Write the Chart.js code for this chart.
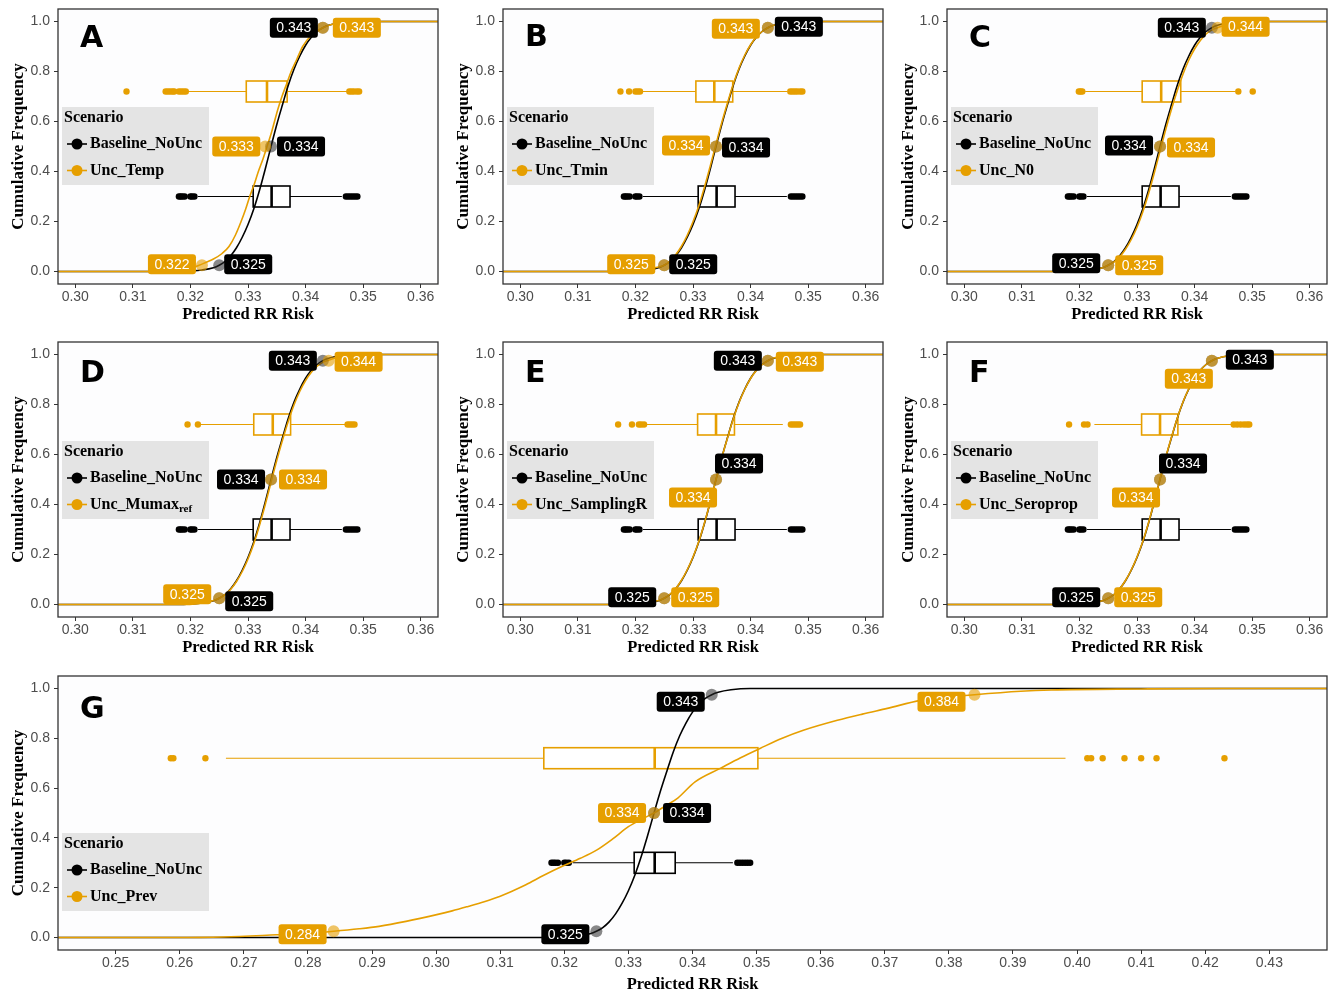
<!DOCTYPE html>
<html>
<head>
<meta charset="utf-8">
<script src="https://cdn.jsdelivr.net/npm/chart.js@4.4.1/dist/chart.umd.min.js"></script>
<style>
  html, body { margin: 0; padding: 0; background: #ffffff; }
  #wrap { position: relative; width: 1334px; height: 995px; overflow: hidden; }
  #wrap canvas { position: absolute; }
</style>
</head>
<body>
<div id="wrap"></div>
<script>
// ---------- shared settings ----------
const ORANGE = '#E69F00';
const BLACK = '#000000';
const panelLetters = ['A', 'B', 'C', 'D', 'E', 'F', 'G'];
const scenarioNames = ['Unc_Temp', 'Unc_Tmin', 'Unc_N0', 'Unc_Mumax', 'Unc_SamplingR', 'Unc_Seroprop', 'Unc_Prev'];
const scenarioSubs = ['', '', '', 'ref', '', '', ''];
const baselineName = 'Baseline_NoUnc';
const quantProbs = [0.025, 0.5, 0.975];
const boxRowY = [0.30, 0.72];           // baseline box row, scenario box row
const yTicks = [0, 0.2, 0.4, 0.6, 0.8, 1.0];
const xTicksNarrow = [0.30, 0.31, 0.32, 0.33, 0.34, 0.35, 0.36];
const xTicksWide = [0.25, 0.26, 0.27, 0.28, 0.29, 0.30, 0.31, 0.32, 0.33, 0.34, 0.35, 0.36, 0.37, 0.38, 0.39, 0.40, 0.41, 0.42, 0.43];
const xRangeNarrow = [0.297, 0.363];
const xRangeWide = [0.241, 0.439];

// ---------- baseline (no uncertainty) ----------
const baselineCdf = [[0.3180,0],[0.3200,0.002],[0.3220,0.006],[0.3240,0.015],[0.3250,0.025],[0.3260,0.040],[0.3270,0.063],[0.3280,0.095],[0.3290,0.137],[0.3300,0.188],[0.3310,0.250],[0.3320,0.325],[0.3330,0.410],[0.3340,0.500],[0.3350,0.588],[0.3360,0.668],[0.3370,0.745],[0.3380,0.810],[0.3390,0.862],[0.3400,0.905],[0.3410,0.937],[0.3420,0.960],[0.3430,0.975],[0.3440,0.985],[0.3460,0.995],[0.3490,1.0]];
const baselineQuant = [0.325, 0.334, 0.343];
const baselineBox = [0.3213, 0.3309, 0.3341, 0.3373, 0.3463];   // lower whisker, Q1, median, Q3, upper whisker
const baselineOutliers = [0.3180, 0.3183, 0.3186, 0.3190, 0.3200, 0.3203, 0.3207, 0.3470, 0.3474, 0.3478, 0.3482, 0.3486, 0.3490];

// ---------- scenarios ----------
const cdfTemp = [[0.3089,0],[0.3157,0.001],[0.3180,0.004],[0.3200,0.011],[0.3215,0.025],[0.3240,0.050],[0.3255,0.072],[0.3267,0.100],[0.3278,0.145],[0.3288,0.200],[0.3296,0.250],[0.3303,0.300],[0.3311,0.350],[0.3318,0.400],[0.3326,0.450],[0.3333,0.500],[0.3340,0.550],[0.3346,0.600],[0.3352,0.650],[0.3359,0.700],[0.3367,0.750],[0.3375,0.800],[0.3385,0.850],[0.3395,0.900],[0.3410,0.945],[0.3430,0.975],[0.3445,0.988],[0.3465,0.996],[0.3493,1.0]];
const quantTemp = [0.322, 0.333, 0.343];
const boxTemp = [0.3196, 0.3297, 0.3333, 0.3368, 0.3472];
const outTemp = [0.3089, 0.3157, 0.3161, 0.3165, 0.3169, 0.3172, 0.3180, 0.3184, 0.3188, 0.3192, 0.3476, 0.3480, 0.3484, 0.3489, 0.3493];

const cdfTmin = [[0.3174,0],[0.3200,0.003],[0.3220,0.009],[0.3240,0.018],[0.3250,0.025],[0.3260,0.042],[0.3270,0.067],[0.3280,0.101],[0.3290,0.145],[0.3300,0.199],[0.3310,0.262],[0.3320,0.338],[0.3330,0.422],[0.3340,0.510],[0.3350,0.596],[0.3360,0.675],[0.3370,0.750],[0.3380,0.814],[0.3390,0.866],[0.3400,0.907],[0.3410,0.938],[0.3420,0.960],[0.3430,0.975],[0.3440,0.985],[0.3460,0.995],[0.3490,1.0]];
const quantTmin = [0.325, 0.334, 0.343];
const boxTmin = [0.3212, 0.3305, 0.3337, 0.3369, 0.3464];
const outTmin = [0.3174, 0.3189, 0.3200, 0.3204, 0.3208, 0.3469, 0.3473, 0.3477, 0.3481, 0.3486, 0.3490];

const cdfN0 = [[0.3198,0],[0.3210,0.003],[0.3230,0.010],[0.3240,0.015],[0.3250,0.025],[0.3260,0.038],[0.3270,0.059],[0.3280,0.089],[0.3290,0.128],[0.3300,0.177],[0.3310,0.238],[0.3320,0.311],[0.3330,0.394],[0.3340,0.482],[0.3350,0.569],[0.3360,0.650],[0.3370,0.724],[0.3380,0.790],[0.3390,0.846],[0.3400,0.890],[0.3410,0.924],[0.3420,0.950],[0.3430,0.966],[0.3440,0.975],[0.3460,0.991],[0.3475,0.997],[0.3501,1.0]];
const quantN0 = [0.325, 0.334, 0.344];
const boxN0 = [0.3210, 0.3309, 0.3342, 0.3376, 0.3471];
const outN0 = [0.3199, 0.3202, 0.3205, 0.3476, 0.3501];

const cdfMumax = [[0.3195,0],[0.3215,0.004],[0.3230,0.010],[0.3240,0.016],[0.3250,0.025],[0.3260,0.039],[0.3270,0.061],[0.3280,0.092],[0.3290,0.132],[0.3300,0.182],[0.3310,0.243],[0.3320,0.317],[0.3330,0.400],[0.3340,0.489],[0.3350,0.577],[0.3360,0.658],[0.3370,0.733],[0.3380,0.799],[0.3390,0.853],[0.3400,0.896],[0.3410,0.929],[0.3420,0.953],[0.3430,0.969],[0.3440,0.977],[0.3460,0.992],[0.3485,1.0]];
const quantMumax = [0.325, 0.334, 0.344];
const boxMumax = [0.3218, 0.3310, 0.3343, 0.3374, 0.3470];
const outMumax = [0.3195, 0.3213, 0.3473, 0.3477, 0.3481, 0.3485];

const cdfSamplingR = [[0.3170,0],[0.3194,0.002],[0.3215,0.006],[0.3240,0.016],[0.3250,0.025],[0.3260,0.041],[0.3270,0.064],[0.3280,0.097],[0.3290,0.139],[0.3300,0.190],[0.3310,0.252],[0.3320,0.327],[0.3330,0.411],[0.3340,0.500],[0.3350,0.587],[0.3360,0.667],[0.3370,0.743],[0.3380,0.808],[0.3390,0.861],[0.3400,0.904],[0.3410,0.936],[0.3420,0.959],[0.3430,0.975],[0.3440,0.986],[0.3460,0.995],[0.3486,1.0]];
const quantSamplingR = [0.325, 0.334, 0.343];
const boxSamplingR = [0.3216, 0.3308, 0.3340, 0.3372, 0.3456];
const outSamplingR = [0.3170, 0.3194, 0.3206, 0.3210, 0.3215, 0.3470, 0.3474, 0.3478, 0.3482, 0.3486];

const cdfSeroprop = [[0.3182,0],[0.3208,0.003],[0.3225,0.008],[0.3240,0.015],[0.3250,0.025],[0.3260,0.040],[0.3270,0.063],[0.3280,0.096],[0.3290,0.138],[0.3300,0.190],[0.3310,0.252],[0.3320,0.327],[0.3330,0.412],[0.3340,0.502],[0.3350,0.590],[0.3360,0.670],[0.3370,0.746],[0.3380,0.811],[0.3390,0.863],[0.3400,0.905],[0.3410,0.937],[0.3420,0.960],[0.3430,0.975],[0.3440,0.985],[0.3460,0.995],[0.3495,1.0]];
const quantSeroprop = [0.325, 0.334, 0.343];
const boxSeroprop = [0.3226, 0.3308, 0.3340, 0.3371, 0.3466];
const outSeroprop = [0.3182, 0.3208, 0.3214, 0.3468, 0.3474, 0.3480, 0.3486, 0.3491, 0.3495];

const cdfPrev = [[0.2586,0],[0.2668,0.002],[0.2751,0.011],[0.2800,0.017],[0.2840,0.025],[0.2880,0.035],[0.2911,0.045],[0.2953,0.065],[0.3001,0.092],[0.3025,0.107],[0.3050,0.125],[0.3075,0.144],[0.3099,0.165],[0.3120,0.188],[0.3140,0.212],[0.3168,0.250],[0.3196,0.285],[0.3225,0.318],[0.3251,0.352],[0.3275,0.395],[0.3300,0.445],[0.3320,0.474],[0.3340,0.500],[0.3360,0.532],[0.3377,0.560],[0.3404,0.625],[0.3444,0.680],[0.3475,0.722],[0.3506,0.760],[0.3540,0.800],[0.3573,0.832],[0.3626,0.872],[0.3665,0.897],[0.3704,0.920],[0.3756,0.952],[0.3800,0.965],[0.3840,0.975],[0.3912,0.989],[0.3960,0.994],[0.4100,0.998],[0.4230,1.0]];
const quantPrev = [0.284, 0.334, 0.384];
const boxPrev = [0.2672, 0.3168, 0.3341, 0.3502, 0.3982];
const outPrev = [0.2586, 0.2590, 0.2640, 0.4016, 0.4022, 0.4040, 0.4074, 0.4100, 0.4124, 0.4230];

const scenarioCdfs = [cdfTemp, cdfTmin, cdfN0, cdfMumax, cdfSamplingR, cdfSeroprop, cdfPrev];
const scenarioQuants = [quantTemp, quantTmin, quantN0, quantMumax, quantSamplingR, quantSeroprop, quantPrev];
const scenarioBoxes = [boxTemp, boxTmin, boxN0, boxMumax, boxSamplingR, boxSeroprop, boxPrev];
const scenarioOutliers = [outTemp, outTmin, outN0, outMumax, outSamplingR, outSeroprop, outPrev];

// ---------- page layout (pixels) ----------
// canvas frame [left, top, width, height] and plot area [left, top, right, bottom]
const frames = [[0,0,445,330],[445,0,445,330],[890,0,444,330],[0,330,445,332],[445,330,445,332],[890,330,444,332],[0,662,1334,333]];
const areas = [[58,9,438,284],[503,9,883,284],[947,9,1327,284],[58,342,438,617],[503,342,883,617],[947,342,1327,617],[58,676,1327,950]];
const xTitlePad = [5,5,5,4,4,4,0];
const letterPos = [[22,38],[22,37],[22,38],[22,40],[22,40],[22,40],[22,42]];
const legendTop = [98,98,98,99,99,99,157];
// value-label offsets from their points: baseline lo/med/hi, scenario lo/med/hi
const labelOffsets = [
  [[29,-1],[30,0],[-29,0],[-30,-1],[-29,0],[34,0]],
  [[29,-1],[30,1],[31,-1],[-33,-1],[-30,-1],[-32,1]],
  [[-32,-2],[-31,-1],[-30,0],[31,0],[31,1],[28,-1]],
  [[30,3],[-30,0],[-30,0],[-32,-4],[32,0],[30,1]],
  [[-32,-1],[23,-16],[-30,0],[31,-1],[-23,18],[32,1]],
  [[-32,-1],[23,-16],[38,-1],[30,-1],[-24,18],[-23,18]],
  [[-31,3],[33,0],[-31,7],[-31,3],[-32,0],[-33,7]]
];

const SANS = '"Liberation Sans", Arial, Helvetica, sans-serif';
const SERIF = '"Liberation Serif", "Times New Roman", serif';
Chart.defaults.font.family = SANS;

function rrect(ctx, x, y, w, h, r) {
  ctx.beginPath();
  ctx.moveTo(x + r, y);
  ctx.lineTo(x + w - r, y); ctx.quadraticCurveTo(x + w, y, x + w, y + r);
  ctx.lineTo(x + w, y + h - r); ctx.quadraticCurveTo(x + w, y + h, x + w - r, y + h);
  ctx.lineTo(x + r, y + h); ctx.quadraticCurveTo(x, y + h, x, y + h - r);
  ctx.lineTo(x, y + r); ctx.quadraticCurveTo(x, y, x + r, y);
  ctx.closePath();
}

// Boxplots, value labels, legend, panel letter and frame
const panelDecor = {
  id: 'panelDecor',
  beforeDraw(chart) {
    const { ctx, chartArea: a } = chart;
    ctx.save();
    ctx.fillStyle = '#FDFDFE';
    ctx.fillRect(a.left, a.top, a.right - a.left, a.bottom - a.top);
    ctx.restore();
  },
  beforeDatasetsDraw(chart, args, opts) {
    const { ctx, chartArea: a, scales: { x, y } } = chart;
    ctx.save();
    ctx.beginPath(); ctx.rect(a.left, a.top, a.right - a.left, a.bottom - a.top); ctx.clip();
    opts.boxes.forEach(b => {
      const [lo, q1, med, q3, hi] = b.stats;
      const yc = y.getPixelForValue(b.y);
      const h = 10.5;
      const xl = x.getPixelForValue(lo), x1 = x.getPixelForValue(q1), xm = x.getPixelForValue(med);
      const x3 = x.getPixelForValue(q3), xh = x.getPixelForValue(hi);
      ctx.strokeStyle = b.color;
      ctx.lineWidth = 1.1;
      ctx.beginPath();
      ctx.moveTo(xl, yc); ctx.lineTo(x1, yc);
      ctx.moveTo(x3, yc); ctx.lineTo(xh, yc);
      ctx.stroke();
      ctx.fillStyle = '#ffffff';
      ctx.fillRect(x1, yc - h, x3 - x1, 2 * h);
      ctx.lineWidth = 1.6;
      ctx.strokeRect(x1, yc - h, x3 - x1, 2 * h);
      ctx.lineWidth = 2.6;
      ctx.beginPath(); ctx.moveTo(xm, yc - h); ctx.lineTo(xm, yc + h); ctx.stroke();
    });
    ctx.restore();
  },
  afterDatasetsDraw(chart, args, opts) {
    const { ctx, scales: { x, y } } = chart;
    ctx.save();
    ctx.font = '14px ' + SANS;
    ctx.textAlign = 'center';
    ctx.textBaseline = 'middle';
    opts.labels.forEach(l => {
      const px = x.getPixelForValue(l.value) + l.dx;
      const py = y.getPixelForValue(l.prob) + l.dy;
      const txt = l.value.toFixed(3);
      const w = ctx.measureText(txt).width + 13;
      const hgt = 20;
      ctx.fillStyle = l.color;
      rrect(ctx, px - w / 2, py - hgt / 2, w, hgt, 3);
      ctx.fill();
      ctx.fillStyle = '#ffffff';
      ctx.fillText(txt, px, py + 0.5);
    });
    ctx.restore();
  },
  afterDraw(chart, args, opts) {
    const { ctx, chartArea: a } = chart;
    ctx.save();
    // legend
    const L = a.left + 4, T = a.top + opts.legendTop;
    ctx.fillStyle = '#E4E4E4';
    ctx.fillRect(L, T, 147, 78);
    ctx.fillStyle = '#000';
    ctx.textAlign = 'left';
    ctx.textBaseline = 'middle';
    ctx.font = 'bold 16px ' + SERIF;
    ctx.fillText('Scenario', L + 2, T + 11);
    opts.entries.forEach((e, i) => {
      const cy = T + 37 + i * 26.5;
      ctx.strokeStyle = e.color;
      ctx.lineWidth = 1.6;
      ctx.beginPath(); ctx.moveTo(L + 5, cy); ctx.lineTo(L + 25, cy); ctx.stroke();
      ctx.fillStyle = e.color;
      ctx.beginPath(); ctx.arc(L + 15, cy, 5.5, 0, Math.PI * 2); ctx.fill();
      ctx.fillStyle = '#000';
      ctx.font = 'bold 16px ' + SERIF;
      ctx.fillText(e.text, L + 28, cy);
      if (e.sub) {
        const w = ctx.measureText(e.text).width;
        ctx.font = 'bold 11px ' + SERIF;
        ctx.fillText(e.sub, L + 28 + w, cy + 5);
      }
    });
    // panel letter
    ctx.fillStyle = '#000';
    ctx.textBaseline = 'alphabetic';
    ctx.font = 'bold 30px "DejaVu Sans", sans-serif';
    ctx.fillText(opts.letter, a.left + opts.letterPos[0], a.top + opts.letterPos[1]);
    // frame
    ctx.strokeStyle = '#333333';
    ctx.lineWidth = 1.3;
    ctx.strokeRect(a.left, a.top, a.right - a.left, a.bottom - a.top);
    ctx.restore();
  }
};

function toPoints(arr) { return arr.map(p => ({ x: p[0], y: p[1] })); }

const wrap = document.getElementById('wrap');

panelLetters.forEach((letter, i) => {
  const [fl, ft, fw, fh] = frames[i];
  const [al, at, ar, ab] = areas[i];
  const wide = i === 6;
  const xr = wide ? xRangeWide : xRangeNarrow;
  const xt = wide ? xTicksWide : xTicksNarrow;

  const canvas = document.createElement('canvas');
  canvas.width = fw; canvas.height = fh;
  canvas.style.left = fl + 'px'; canvas.style.top = ft + 'px';
  canvas.style.width = fw + 'px'; canvas.style.height = fh + 'px';
  wrap.appendChild(canvas);

  // ECDF tails run to the plot edges on both sides
  const tailL = { x: xr[0] - 1, y: 0 }, tailR = { x: xr[1] + 1, y: 1 };
  const scen = scenarioCdfs[i];

  const blackQ = baselineQuant.map((v, k) => ({ x: v, y: quantProbs[k] }));
  const orangeQ = scenarioQuants[i].map((v, k) => ({ x: v, y: quantProbs[k] }));

  const offs = labelOffsets[i];
  const labels = [];
  baselineQuant.forEach((v, k) => labels.push({ value: v, prob: quantProbs[k], color: BLACK, dx: offs[k][0], dy: offs[k][1] }));
  scenarioQuants[i].forEach((v, k) => labels.push({ value: v, prob: quantProbs[k], color: ORANGE, dx: offs[3 + k][0], dy: offs[3 + k][1] }));

  new Chart(canvas, {
    type: 'scatter',
    data: {
      datasets: [
        { data: orangeQ, pointRadius: 6, pointBackgroundColor: 'rgba(230,159,0,0.6)', pointBorderWidth: 0, showLine: false },
        { data: blackQ, pointRadius: 6, pointBackgroundColor: 'rgba(40,40,40,0.55)', pointBorderWidth: 0, showLine: false },
        { data: [tailL].concat(toPoints(scen), [tailR]), showLine: true, borderColor: ORANGE, borderWidth: 1.6, pointRadius: 0, cubicInterpolationMode: 'monotone' },
        { data: [tailL].concat(toPoints(baselineCdf), [tailR]), showLine: true, borderColor: BLACK, borderWidth: 1.6, pointRadius: 0, cubicInterpolationMode: 'monotone' },
        { data: scenarioOutliers[i].map(v => ({ x: v, y: boxRowY[1] })), pointRadius: 3.2, pointBackgroundColor: ORANGE, pointBorderWidth: 0, showLine: false },
        { data: baselineOutliers.map(v => ({ x: v, y: boxRowY[0] })), pointRadius: 3.2, pointBackgroundColor: BLACK, pointBorderWidth: 0, showLine: false }
      ]
    },
    plugins: [panelDecor],
    options: {
      responsive: false,
      animation: false,
      devicePixelRatio: 1,
      events: [],
      layout: { padding: { top: at - ft, right: (fl + fw) - ar, left: 0, bottom: 0 } },
      plugins: {
        legend: { display: false },
        tooltip: { enabled: false },
        panelDecor: {
          boxes: [
            { y: boxRowY[0], stats: baselineBox, color: BLACK },
            { y: boxRowY[1], stats: scenarioBoxes[i], color: ORANGE }
          ],
          labels: labels,
          legendTop: legendTop[i],
          entries: [
            { text: baselineName, color: BLACK },
            { text: scenarioNames[i], sub: scenarioSubs[i], color: ORANGE }
          ],
          letter: letter,
          letterPos: letterPos[i]
        }
      },
      scales: {
        x: {
          type: 'linear', min: xr[0], max: xr[1],
          afterBuildTicks: s => { s.ticks = xt.map(v => ({ value: v })); },
          afterFit: s => { s.height = (ft + fh) - ab; s.paddingLeft = 0; s.paddingRight = 0; },
          ticks: { callback: v => v.toFixed(2), color: '#4D4D4D', font: { size: 14 }, padding: 1, maxRotation: 0, autoSkip: false },
          grid: { display: true, drawOnChartArea: false, drawTicks: true, tickLength: 4, color: '#333333', lineWidth: 1 },
          border: { display: false },
          title: { display: true, text: 'Predicted RR Risk', color: '#000', font: { family: SERIF, weight: 'bold', size: 16.5 }, padding: { top: 0, bottom: xTitlePad[i] } }
        },
        y: {
          type: 'linear', min: -0.05, max: 1.05,
          afterBuildTicks: s => { s.ticks = yTicks.map(v => ({ value: v })); },
          afterFit: s => { s.width = al - fl; s.paddingTop = 0; s.paddingBottom = 0; },
          ticks: { callback: v => v.toFixed(1), color: '#4D4D4D', font: { size: 14 }, padding: 4 },
          grid: { display: true, drawOnChartArea: false, drawTicks: true, tickLength: 4, color: '#333333', lineWidth: 1 },
          border: { display: false },
          title: { display: true, text: 'Cumulative Frequency', color: '#000', font: { family: SERIF, weight: 'bold', size: 17 }, padding: { top: 8, bottom: 0 } }
        }
      }
    }
  });
});
</script>
</body>
</html>
